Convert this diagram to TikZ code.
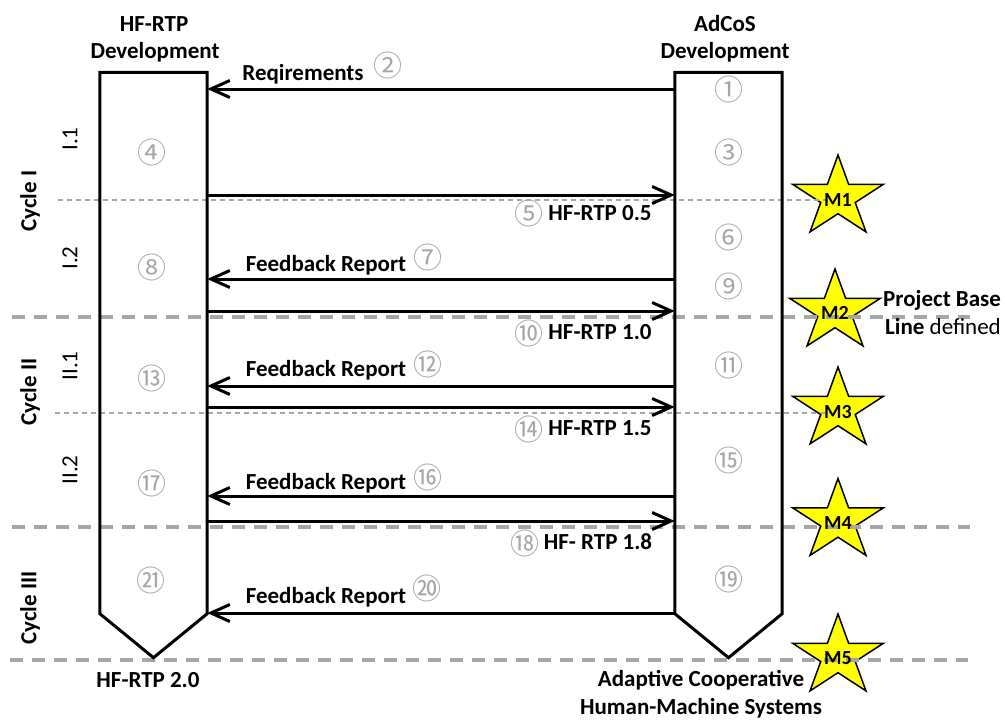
\documentclass[tikz,border=0pt]{standalone}
\usepackage{fontspec}
\setmainfont{Carlito}
\newfontfamily\cjk{Noto Sans CJK SC}
\usetikzlibrary{arrows.meta,calc}
\definecolor{numgray}{HTML}{A6A6A6}
\definecolor{dashgray}{HTML}{A6A6A6}
\definecolor{staryellow}{HTML}{FFFF00}
\tikzset{
  boxline/.style={line width=3pt, line join=miter},
  arr/.style={line width=3pt, -{Straight Barb[length=19pt,width=17pt]}},
  lbl/.style={font=\bfseries\fontsize{23}{27}\selectfont, inner sep=0},
  rlbl/.style={font=\fontsize{23}{27}\selectfont, inner sep=0, rotate=90},
  num/.style={font=\cjk\fontsize{29}{31}\selectfont, text=numgray, inner sep=0},
  major/.style={line width=3.5pt, dash pattern=on 13pt off 9pt, draw=dashgray},
  minor/.style={line width=1.2pt, dash pattern=on 5pt off 4pt, draw=dashgray},
  starshape/.style={fill=staryellow, draw=black, line width=1.5pt, line join=miter},
  mlab/.style={font=\bfseries\fontsize{20}{22}\selectfont, inner sep=0}
}
\newcommand\milestar[2]{%
  \begin{scope}[shift={(#1,#2)}, xscale=1.12]
    \draw[starshape] (-90:42.5) -- (-54:16.2) -- (-18:42.5) -- (18:16.2) -- (54:42.5)
      -- (90:16.2) -- (126:42.5) -- (162:16.2) -- (198:42.5) -- (234:16.2) -- cycle;
  \end{scope}}
\begin{document}
\begin{tikzpicture}[x=1pt,y=-1pt]
\useasboundingbox (0,0) rectangle (1005,720);

% milestones (stars)
\milestar{838}{197.5}
\milestar{835}{311.5}
\milestar{838}{409.5}
\milestar{838}{521}
\milestar{838}{656.5}

% separators
\draw[minor] (58,200) -- (830,200);
\draw[minor] (55,413) -- (830,413);
\draw[major] (12,317) -- (970,317);
\draw[major] (12,527) -- (970,527);
\draw[major] (10,660) -- (968,660);

% milestone labels
\node[mlab] (m1) at (838,200) {M1};
\node[mlab] (m2) at (835,313) {M2};
\node[mlab] (m3) at (838,412) {M3};
\node[mlab] (m4) at (838,523) {M4};
\node[mlab] (m5) at (838,658) {M5};

% lanes
\node[minimum width=107pt, minimum height=541pt, inner sep=0] (L) at (153.5,343) {};
\node[minimum width=107pt, minimum height=541pt, inner sep=0] (R) at (728.5,343) {};
\draw[boxline] (L.north west) -- (L.north east) -- (L.south east) -- ($(L.south)+(0,44)$) -- (L.south west) -- cycle;
\draw[boxline] (R.north west) -- (R.north east) -- (R.south east) -- ($(R.south)+(0,44)$) -- (R.south west) -- cycle;

% arrows
\draw[arr] (R.west |- 0,89) -- (L.east |- 0,89);
\draw[arr] (L.east |- 0,195) -- (R.west |- 0,195);
\draw[arr] (R.west |- 0,279) -- (L.east |- 0,279);
\draw[arr] (L.east |- 0,311) -- (R.west |- 0,311);
\draw[arr] (R.west |- 0,386) -- (L.east |- 0,386);
\draw[arr] (L.east |- 0,407) -- (R.west |- 0,407);
\draw[arr] (R.west |- 0,496) -- (L.east |- 0,496);
\draw[arr] (L.east |- 0,521) -- (R.west |- 0,521);
\draw[arr] (R.west |- 0,613) -- (L.east |- 0,613);

% arrow labels
\node[lbl] (t2) at (303,74) {Reqirements};
\node[num] (n2) at (388,65) {②};
\node[num] (n5) at (529,213) {⑤};
\node[lbl] (t5) at (600,213) {HF-RTP 0.5};
\node[lbl] (t7) at (326,265) {Feedback Report};
\node[num] (n7) at (428,257) {⑦};
\node[num] (n10) at (529,333) {⑩};
\node[lbl] (t10) at (600,332) {HF-RTP 1.0};
\node[lbl] (t12) at (326,370) {Feedback Report};
\node[num] (n12) at (428,364) {⑫};
\node[num] (n14) at (529,429) {⑭};
\node[lbl] (t14) at (600,428) {HF-RTP 1.5};
\node[lbl] (t16) at (326,483) {Feedback Report};
\node[num] (n16) at (428,477) {⑯};
\node[num] (n18) at (525,543) {⑱};
\node[lbl] (t18) at (598,542) {HF- RTP 1.8};
\node[lbl] (t20) at (326,597) {Feedback Report};
\node[num] (n20) at (427,588) {⑳};

% step numbers in lanes
\node[num] (n4) at (152,152) {④};
\node[num] (n8) at (152,267) {⑧};
\node[num] (n13) at (152,378) {⑬};
\node[num] (n17) at (152,483) {⑰};
\node[num] (n21) at (151,580) {㉑};
\node[num] (n1) at (729,89) {①};
\node[num] (n3) at (729,152) {③};
\node[num] (n6) at (729,237) {⑥};
\node[num] (n9) at (729,286) {⑨};
\node[num] (n11) at (729,365) {⑪};
\node[num] (n15) at (729,460) {⑮};
\node[num] (n19) at (729,579) {⑲};

% titles
\node[lbl] (h1) at (154,24) {HF-RTP};
\node[lbl] (h2) at (155,52) {Development};
\node[lbl] (h3) at (725,24) {AdCoS};
\node[lbl] (h4) at (725,52) {Development};
\node[lbl] (f1) at (148,680) {HF-RTP 2.0};
\node[lbl] (f2) at (701,680) {Adaptive Cooperative};
\node[lbl] (f3) at (701,708) {Human-Machine Systems};
\node[lbl, anchor=west] (pb1) at (883,300) {Project Base};
\node[lbl, anchor=west] (pb2) at (885,327) {Line \mdseries defined};

% cycle labels
\node[lbl, rotate=90] (c1) at (30,201) {Cycle I};
\node[lbl, rotate=90] (c2) at (30,392) {Cycle II};
\node[lbl, rotate=90] (c3) at (30,608) {Cycle III};
\node[rlbl] (s11) at (70,139) {I.1};
\node[rlbl] (s12) at (70,258) {I.2};
\node[rlbl] (s21) at (70,366) {II.1};
\node[rlbl] (s22) at (70,470) {II.2};
\end{tikzpicture}
\end{document}
